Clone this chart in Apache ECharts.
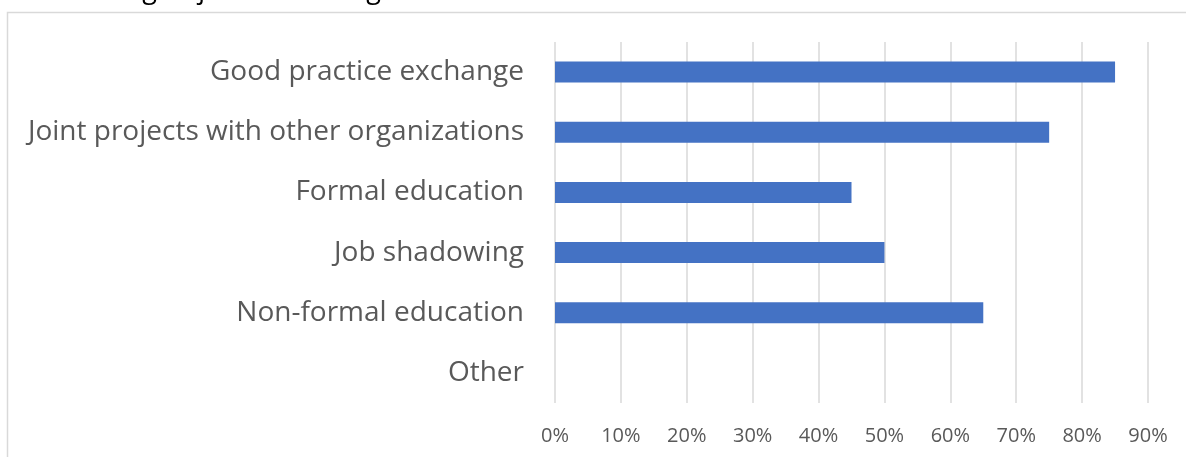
<!DOCTYPE html>
<html>
<head>
<meta charset="utf-8">
<script src="https://cdn.jsdelivr.net/npm/echarts@6/dist/echarts.min.js"></script>
<style>
  html, body { margin: 0; padding: 0; background: #ffffff; }
  #chart { width: 1186px; height: 457px; }
</style>
</head>
<body>
<div id="chart"></div>
<script>
// Forms of learning reported by respondents (share, %)
const categories = [
  'Good practice exchange',
  'Joint projects with other organizations',
  'Formal education',
  'Job shadowing',
  'Non-formal education',
  'Other'
];
const shares = [85, 75, 45, 50, 65, 0];
const tickMax = 90;
const tickStep = 10;
const precedingLine = 'learning or job shadowing.';

const chart = echarts.init(document.getElementById('chart'));
const textColor = '#595959';
const fontFamily = '"Open Sans", "Noto Sans", sans-serif';

chart.setOption({
  animation: false,
  backgroundColor: '#ffffff',
  graphic: [
    {
      type: 'rect',
      shape: { x: 7.5, y: 12.5, width: 1300, height: 600 },
      style: { fill: 'none', stroke: '#d9d9d9', lineWidth: 1.5 },
      silent: true
    },
    {
      type: 'text',
      x: 388,
      y: 4,
      style: {
        text: precedingLine,
        font: '27px ' + fontFamily,
        fill: '#000000',
        align: 'right',
        verticalAlign: 'bottom'
      },
      silent: true
    }
  ],
  grid: {
    left: 555,
    right: 38,
    top: 42,
    bottom: 54,
    outerBoundsMode: 'none'
  },
  xAxis: {
    type: 'value',
    min: 0,
    max: tickMax,
    interval: tickStep,
    axisLine: { show: false },
    axisTick: { show: false },
    axisLabel: {
      formatter: '{value}%',
      color: textColor,
      fontSize: 20,
      fontFamily: fontFamily,
      margin: 23
    },
    splitLine: { lineStyle: { color: '#d9d9d9', width: 1.5 } }
  },
  yAxis: {
    type: 'category',
    inverse: true,
    data: categories,
    axisLine: { show: false },
    axisTick: { show: false },
    axisLabel: {
      color: textColor,
      fontSize: 28,
      fontFamily: fontFamily,
      margin: 31
    }
  },
  series: [{
    type: 'bar',
    data: shares,
    barWidth: 21,
    itemStyle: { color: '#4472c4' }
  }]
});
</script>
</body>
</html>
